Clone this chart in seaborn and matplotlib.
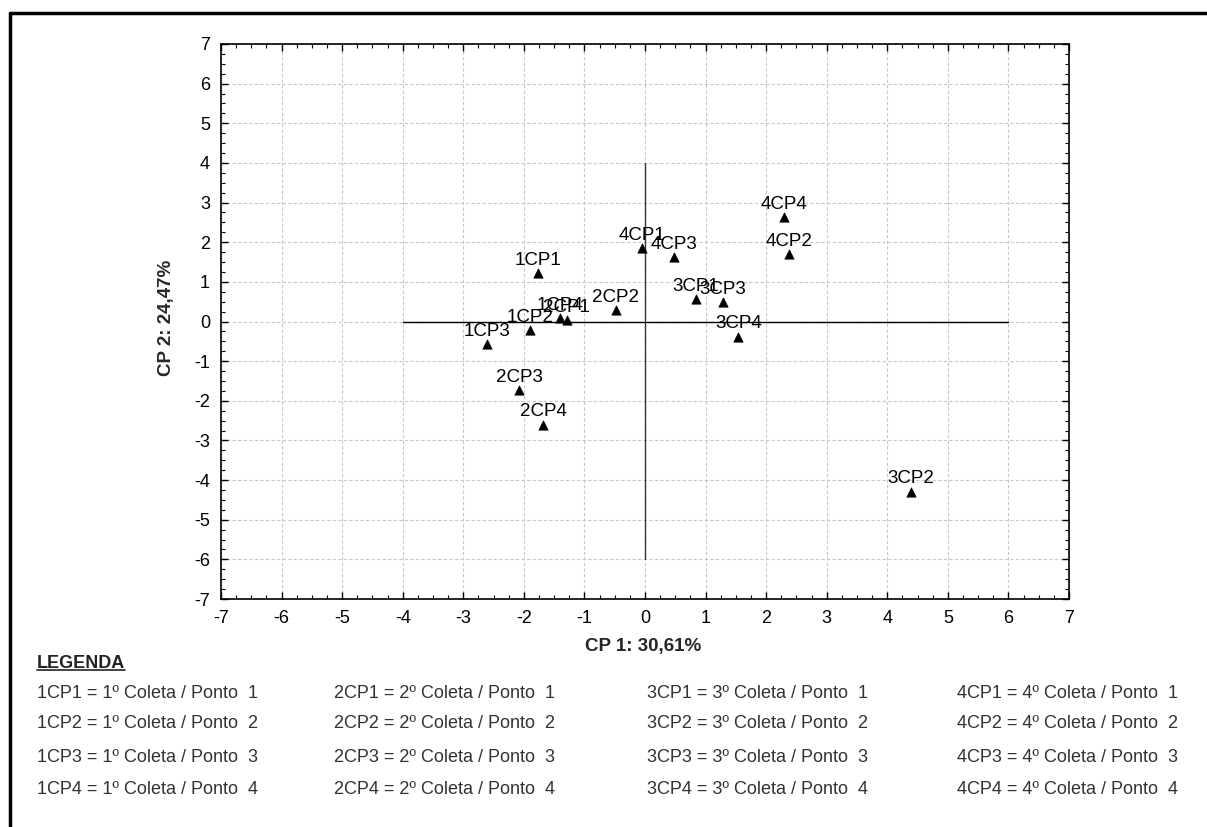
import matplotlib
matplotlib.use("Agg")
import matplotlib.pyplot as plt
import seaborn as sns
import pandas as pd
from matplotlib.lines import Line2D
from matplotlib.ticker import MultipleLocator

# scores on the first two principal components
labels = ['1CP1', '1CP2', '1CP3', '1CP4',
          '2CP1', '2CP2', '2CP3', '2CP4',
          '3CP1', '3CP2', '3CP3', '3CP4',
          '4CP1', '4CP2', '4CP3', '4CP4']
cp1 = [-1.77, -1.90, -2.61, -1.40,
       -1.29, -0.48, -2.08, -1.68,
       0.84, 4.39, 1.28, 1.54,
       -0.05, 2.38, 0.48, 2.29]
cp2 = [1.22, -0.22, -0.57, 0.09,
       0.03, 0.29, -1.73, -2.60,
       0.57, -4.29, 0.49, -0.38,
       1.85, 1.70, 1.63, 2.64]

xlabel = 'CP 1: 30,61%'
ylabel = 'CP 2: 24,47%'
coletas = ['1', '2', '3', '4']
pontos = ['1', '2', '3', '4']

df = pd.DataFrame({'CP1': cp1, 'CP2': cp2, 'label': labels})

sns.set_style('white')
plt.rcParams['font.family'] = ['Liberation Sans', 'DejaVu Sans']
plt.rcParams['axes.unicode_minus'] = False

W, H = 1207, 827
fig = plt.figure(figsize=(W / 100, H / 100), dpi=100)
ax = fig.add_axes([221 / W, 1 - 599 / H, (1069 - 221) / W, (599 - 44) / H])

# reference axes through the origin
ax.plot([-4, 6], [0, 0], color='black', lw=1, zorder=2)
ax.plot([0, 0], [-6, 4], color='#333333', lw=1, zorder=2)

sns.scatterplot(data=df, x='CP1', y='CP2', marker='^', color='black',
                s=45, edgecolor='black', linewidth=0.5, ax=ax, zorder=3)

for lab, x, y in zip(labels, cp1, cp2):
    ax.annotate(lab, (x, y), xytext=(0, 6), textcoords='offset points',
                ha='center', va='baseline', fontsize=13.5, color='black',
                zorder=4)

ax.set_xlim(-7, 7)
ax.set_ylim(-7, 7)
ax.xaxis.set_major_locator(MultipleLocator(1))
ax.yaxis.set_major_locator(MultipleLocator(1))
ax.xaxis.set_minor_locator(MultipleLocator(0.25))
ax.yaxis.set_minor_locator(MultipleLocator(0.25))
ax.tick_params(which='both', direction='in', top=True, right=True,
               bottom=True, left=True, color='black')
ax.tick_params(which='major', length=5, width=1, labelsize=13, pad=8,
               labelcolor='black')
ax.tick_params(which='minor', length=3, width=0.8)
ax.grid(True, which='major', color='#c8c8c8', linestyle=(0, (3, 2)), lw=0.8)
ax.set_axisbelow(True)
for sp in ax.spines.values():
    sp.set_color('black')
    sp.set_linewidth(1.2)
ax.set_xlabel('')
ax.set_ylabel('')

fig.text(643 / W, 1 - 647 / H, xlabel, ha='center', va='center',
         fontsize=13.5, fontweight='bold')
fig.text(167 / W, 1 - 318 / H, ylabel, ha='center', va='center',
         rotation=90, fontsize=13.5, fontweight='bold')

# legend block under the chart
leg = fig.text(37 / W, 1 - 663 / H, 'LEGENDA', ha='left', va='center',
               fontsize=13, fontweight='bold', color='#222222')
col_x = [37, 334, 647, 957]
row_y = [693, 724, 757, 790]
for c, cx in zip(coletas, col_x):
    for p, ry in zip(pontos, row_y):
        fig.text(cx / W, 1 - ry / H, f'{c}CP{p} = {c}º Coleta / Ponto  {p}',
                 ha='left', va='center', fontsize=13, color='#333333')

fig.canvas.draw()
bb = leg.get_window_extent().transformed(fig.transFigure.inverted())
fig.add_artist(Line2D([bb.x0, bb.x1], [bb.y0 + 0.002, bb.y0 + 0.002],
                      transform=fig.transFigure, color='#222222', lw=1.2))

# page frame (top and left edges)
fig.add_artist(Line2D([10 / W, 1], [1 - 13 / H, 1 - 13 / H],
                      transform=fig.transFigure, color='black', lw=2.5))
fig.add_artist(Line2D([10 / W, 10 / W], [0, 1 - 13 / H],
                      transform=fig.transFigure, color='black', lw=2.5))

fig.savefig('out.png', dpi=100)
